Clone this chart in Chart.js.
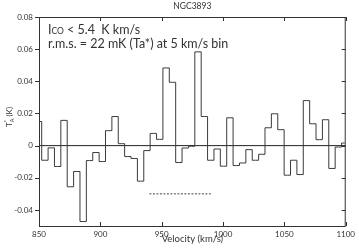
<!DOCTYPE html>
<html>
<head>
<meta charset="utf-8">
<script src="https://cdn.jsdelivr.net/npm/chart.js@4.4.1/dist/chart.umd.min.js"></script>
<style>
  html, body { margin: 0; padding: 0; background: #fff; }
  canvas { display: block; }
</style>
</head>
<body>
<canvas id="spec" width="359" height="249"></canvas>
<script>
// channel centres (km/s) and antenna temperature (K)
const velocity = [849.6, 854.8, 860.0, 865.2, 870.4, 875.6, 880.8, 886.0, 891.2, 896.4,
  901.6, 906.8, 912.0, 917.2, 922.4, 927.6, 932.8, 938.0, 943.2, 948.4,
  953.6, 958.8, 964.0, 969.2, 974.4, 979.6, 984.8, 990.0, 995.2, 1000.4,
  1005.6, 1010.8, 1016.0, 1021.2, 1026.4, 1031.6, 1036.8, 1042.0, 1047.2, 1052.4,
  1057.6, 1062.8, 1068.0, 1073.2, 1078.4, 1083.6, 1088.8, 1094.0, 1099.2];
const antennaTemp = [0.0150, -0.0091, -0.0014, -0.0130, 0.0157, -0.0256, -0.0161, -0.0472, -0.0093, -0.0043,
  -0.0099, 0.0093, 0.0181, 0.0012, -0.0068, -0.0080, -0.0221, -0.0031, 0.0076, 0.0039,
  0.0483, 0.0394, -0.0105, -0.0015, -0.0004, 0.0583, 0.0181, -0.0091, -0.0021, -0.0128,
  0.0173, -0.0124, -0.0108, -0.0025, -0.0091, -0.0054, 0.0111, 0.0198, 0.0099, -0.0184,
  -0.0091, -0.0180, 0.0280, 0.0136, 0.0037, 0.0161, -0.0142, -0.0009, 0.0016];

// zero baseline and the dashed line under the spectrum
const zeroVel = [850, 1100];
const zeroVal = [0, 0];
const dashVel = [940, 990];
const dashVal = [-0.03, -0.03];

const xTicks = [850, 900, 950, 1000, 1050, 1100];
const yTicks = [-0.04, -0.02, 0, 0.02, 0.04, 0.06, 0.08];

const titleText = "NGC3893";
const noteRms = "r.m.s. = 22 mK (Ta*) at 5 km/s bin";

const FONT = "Lato, 'Noto Sans', sans-serif";
const INK = "#333";

function pts(xs, ys) {
  return xs.map((x, i) => ({ x: x, y: ys[i] }));
}

// frame, ticks, title and the free text
const frame = {
  id: "frame",
  afterDraw(chart) {
    const ctx = chart.ctx;
    const a = chart.chartArea;
    const xs = chart.scales.x, ys = chart.scales.y;
    ctx.save();
    ctx.strokeStyle = INK;
    ctx.lineWidth = 1;
    ctx.strokeRect(a.left + 0.5, a.top + 0.5, a.right - a.left - 1, a.bottom - a.top);

    ctx.beginPath();
    xTicks.forEach(v => {
      const px = Math.round(xs.getPixelForValue(v)) + 0.5;
      ctx.moveTo(px, a.bottom); ctx.lineTo(px, a.bottom - 4);
      ctx.moveTo(px, a.top); ctx.lineTo(px, a.top + 4);
    });
    yTicks.forEach(v => {
      const py = Math.round(ys.getPixelForValue(v)) + 0.5;
      ctx.moveTo(a.left, py); ctx.lineTo(a.left - 4, py);
      ctx.moveTo(a.right, py); ctx.lineTo(a.right - 4, py);
    });
    ctx.stroke();

    // title
    ctx.fillStyle = INK;
    ctx.textAlign = "center";
    ctx.textBaseline = "middle";
    ctx.font = "8.5px " + FONT;
    ctx.fillText(titleText, (a.left + a.right) / 2, 6);

    // x title
    ctx.font = "9.5px " + FONT;
    ctx.fillText("Velocity (km/s)", (a.left + a.right) / 2, 239);

    // y title: T_A^* (K), rotated
    ctx.save();
    ctx.translate(9, 117);
    ctx.rotate(-Math.PI / 2);
    ctx.textAlign = "left";
    ctx.textBaseline = "alphabetic";
    ctx.font = "8px " + FONT;
    const wT = ctx.measureText("T").width;
    ctx.font = "5.5px " + FONT;
    const wA = ctx.measureText("A").width;
    ctx.font = "8px " + FONT;
    const wK = ctx.measureText(" (K)").width;
    let x0 = -(wT + wA + wK) / 2;
    ctx.fillText("T", x0, 3);
    ctx.font = "5.5px " + FONT;
    ctx.fillText("A", x0 + wT, 5);
    ctx.fillText("*", x0 + wT, -1);
    ctx.font = "8px " + FONT;
    ctx.fillText(" (K)", x0 + wT + wA, 3);
    ctx.restore();

    // annotation
    ctx.textAlign = "left";
    ctx.textBaseline = "alphabetic";
    let tx = a.left + 9;
    ctx.font = "12.5px " + FONT;
    ctx.fillText("I", tx, 33.5);
    tx += ctx.measureText("I").width;
    ctx.font = "8.5px " + FONT;
    ctx.fillText("CO", tx, 33.5);
    tx += ctx.measureText("CO").width;
    ctx.font = "12.5px " + FONT;
    ctx.fillText(" < 5.4  K km/s", tx, 33.5);
    ctx.fillText(noteRms, a.left + 9, 47.5);
    ctx.restore();
  }
};

new Chart(document.getElementById("spec"), {
  type: "line",
  data: {
    datasets: [
      {
        data: pts(velocity, antennaTemp),
        stepped: "middle",
        borderColor: "#3a3a3a",
        borderWidth: 1,
        pointRadius: 0,
        clip: 0
      },
      {
        data: pts(zeroVel, zeroVal),
        borderColor: "#222",
        borderWidth: 1,
        pointRadius: 0
      },
      {
        data: pts(dashVel, dashVal),
        borderColor: "#444",
        borderWidth: 1,
        borderDash: [2, 1.5],
        pointRadius: 0
      }
    ]
  },
  options: {
    responsive: false,
    animation: false,
    events: [],
    layout: { padding: { top: 17, right: 11, left: 0, bottom: 0 } },
    plugins: { legend: { display: false }, tooltip: { enabled: false }, title: { display: false } },
    scales: {
      x: {
        type: "linear",
        min: 850,
        max: 1100,
        afterFit(s) { s.height = 23; },
        afterBuildTicks(s) { s.ticks = xTicks.map(v => ({ value: v })); },
        grid: { display: false, drawTicks: false },
        border: { display: false },
        ticks: { color: INK, font: { family: FONT, size: 8 }, padding: 4, maxRotation: 0,
          callback: v => String(v) }
      },
      y: {
        type: "linear",
        min: -0.05,
        max: 0.08,
        afterFit(s) { s.width = 39; },
        afterBuildTicks(s) { s.ticks = yTicks.map(v => ({ value: v })); },
        grid: { display: false, drawTicks: false },
        border: { display: false },
        ticks: { color: INK, font: { family: FONT, size: 8 }, padding: 6,
          callback: v => (v === 0 ? "0" : String(+v.toFixed(2))) }
      }
    }
  },
  plugins: [frame]
});
</script>
</body>
</html>
